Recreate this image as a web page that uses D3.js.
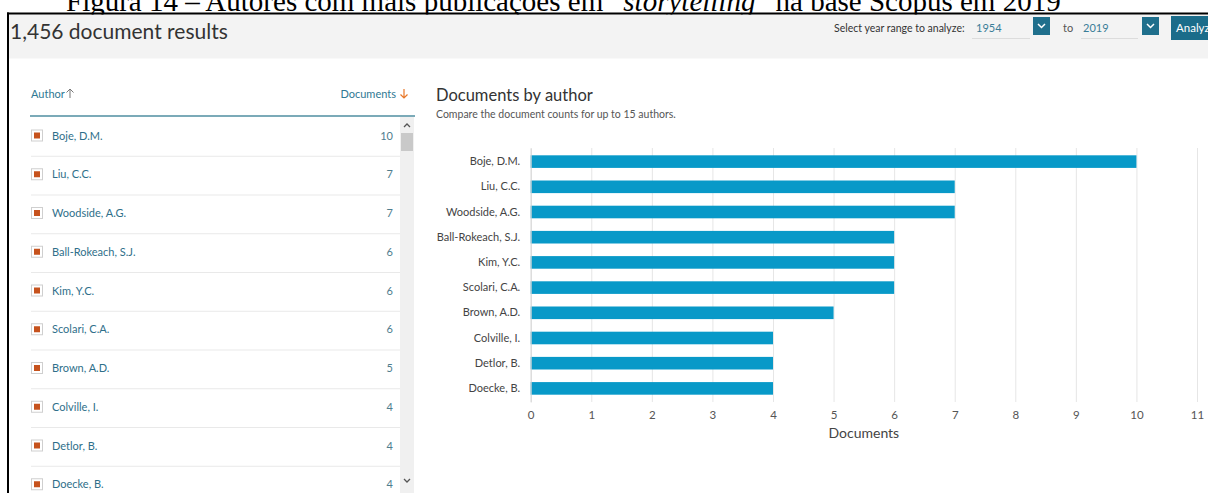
<!DOCTYPE html>
<html><head><meta charset="utf-8">
<script src="https://cdn.jsdelivr.net/npm/d3@7"></script>
<style>
html,body{margin:0;padding:0;background:#fff;overflow:hidden}
svg{display:block;font-family:Lato,"Open Sans",sans-serif}
</style></head><body>
<svg id="c" width="1208" height="493"></svg>
<script>
// ---- data ----
const authors = ["Boje, D.M.", "Liu, C.C.", "Woodside, A.G.", "Ball-Rokeach, S.J.", "Kim, Y.C.",
                 "Scolari, C.A.", "Brown, A.D.", "Colville, I.", "Detlor, B.", "Doecke, B."];
const documents = [10, 7, 7, 6, 6, 6, 5, 4, 4, 4];
const xTicks = [0, 1, 2, 3, 4, 5, 6, 7, 8, 9, 10, 11];
const captionParts = ["Figura 14 – Autores com mais publicações em “", "storytelling", "” na base Scopus em 2019"];
const resultLabel = "1,456 document results";
const yearFrom = "1954";
const yearTo = "2019";
const chartTitle = "Documents by author";
const chartSubtitle = "Compare the document counts for up to 15 authors.";
const xAxisTitle = "Documents";

const data = authors.map((a, i) => ({author: a, docs: documents[i]}));
const svg = d3.select("#c");

// ---- caption (clipped at top, as in the source screenshot) ----
const cap = svg.append("text").attr("x", 66).attr("y", 10.5)
  .style("font-family", "'Liberation Serif','Times New Roman',serif").style("font-size", "29px").attr("fill", "#000");
cap.append("tspan").text(captionParts[0]);
cap.append("tspan").style("font-style", "italic").text(captionParts[1]);
cap.append("tspan").text(captionParts[2]);

// ---- screenshot frame ----
svg.append("rect").attr("x", 9).attr("y", 14.5).attr("width", 1199).attr("height", 44).attr("fill", "#f3f3f3");
svg.append("line").attr("x1", 7).attr("x2", 1208).attr("y1", 13.5).attr("y2", 13.5).attr("stroke", "#000").attr("stroke-width", 2);
svg.append("line").attr("x1", 8).attr("x2", 8).attr("y1", 12.5).attr("y2", 493).attr("stroke", "#000").attr("stroke-width", 2);

// ---- header ----
svg.append("text").attr("x", 10).attr("y", 38.5).attr("fill", "#333").style("font-size", "21px").text(resultLabel);
svg.append("text").attr("x", 834).attr("y", 32).attr("fill", "#333").style("font-size", "10.5px").text("Select year range to analyze:");
svg.append("text").attr("x", 976).attr("y", 32).attr("fill", "#3a7d98").style("font-size", "11px").text(yearFrom);
svg.append("line").attr("x1", 972).attr("x2", 1030).attr("y1", 38.5).attr("y2", 38.5).attr("stroke", "#dcdcdc");
svg.append("text").attr("x", 1063).attr("y", 32).attr("fill", "#555").style("font-size", "11px").text("to");
svg.append("text").attr("x", 1083).attr("y", 32).attr("fill", "#3a7d98").style("font-size", "11px").text(yearTo);
svg.append("line").attr("x1", 1081).attr("x2", 1138).attr("y1", 38.5).attr("y2", 38.5).attr("stroke", "#dcdcdc");
[1033, 1142].forEach(bx => {
  svg.append("rect").attr("x", bx).attr("y", 17).attr("width", 17).attr("height", 18).attr("fill", "#1f6f8c");
  svg.append("polyline").attr("points", `${bx+5},${24} ${bx+8.5},${27.5} ${bx+12},${24}`)
    .attr("fill", "none").attr("stroke", "#fff").attr("stroke-width", 1.5);
});
svg.append("rect").attr("x", 1171).attr("y", 16).attr("width", 60).attr("height", 24).attr("fill", "#1b6c8a");
svg.append("text").attr("x", 1176).attr("y", 32).attr("fill", "#fff").style("font-size", "11.5px").text("Analyze");

// ---- left table ----
const tbl = svg.append("g");
tbl.append("text").attr("x", 31).attr("y", 98).attr("fill", "#2f7893").style("font-size", "11px").text("Author");
tbl.append("path").attr("d", "M70,98 L70,89 M66.5,92.5 L70,89 L73.5,92.5").attr("fill", "none").attr("stroke", "#777").attr("stroke-width", 1);
tbl.append("text").attr("x", 396).attr("y", 98).attr("text-anchor", "end").attr("fill", "#2f7893").style("font-size", "11px").text("Documents");
tbl.append("path").attr("d", "M404,89 L404,98 M400.5,94.5 L404,98 L407.5,94.5").attr("fill", "none").attr("stroke", "#e8782a").attr("stroke-width", 1.2);
tbl.append("line").attr("x1", 30).attr("x2", 415).attr("y1", 116).attr("y2", 116).attr("stroke", "#4f8ea1").attr("stroke-width", 1.5);

const rowY = d3.scaleBand().domain(authors).range([118, 118 + 38.75 * authors.length]);
const rows = tbl.selectAll("g.row").data(data).join("g").attr("class", "row")
  .attr("transform", d => `translate(0,${rowY(d.author)})`);
rows.append("line").attr("x1", 31).attr("x2", 400).attr("y1", rowY.bandwidth() - 0.5).attr("y2", rowY.bandwidth() - 0.5).attr("stroke", "#e9e9e9");
rows.append("rect").attr("x", 31.5).attr("y", 12).attr("width", 11).attr("height", 11).attr("fill", "#fff").attr("stroke", "#cfcfcf");
rows.append("rect").attr("x", 34).attr("y", 14.5).attr("width", 6).attr("height", 6).attr("fill", "#c6521d");
rows.append("text").attr("x", 52).attr("y", 21.5).attr("fill", "#2f6f8a").style("font-size", "11px").text(d => d.author);
rows.append("text").attr("x", 393).attr("y", 21.5).attr("text-anchor", "end").attr("fill", "#4f7d8e").style("font-size", "11px").text(d => d.docs);

// scrollbar
svg.append("rect").attr("x", 400).attr("y", 117).attr("width", 14).attr("height", 376).attr("fill", "#f0f0f0");
svg.append("rect").attr("x", 401).attr("y", 133).attr("width", 12).attr("height", 18).attr("fill", "#c9c9c9");
svg.append("polyline").attr("points", "404,127 407,124 410,127").attr("fill", "none").attr("stroke", "#555").attr("stroke-width", 1.3);
svg.append("polyline").attr("points", "404,479 407,482 410,479").attr("fill", "none").attr("stroke", "#555").attr("stroke-width", 1.3);

// ---- chart ----
svg.append("text").attr("x", 436).attr("y", 100.5).attr("fill", "#333").style("font-size", "16.5px").text(chartTitle);
svg.append("text").attr("x", 436).attr("y", 117.5).attr("fill", "#555").style("font-size", "10.5px").text(chartSubtitle);

const plotTop = 148, plotBottom = 402;
const x = d3.scaleLinear().domain([0, 11]).range([530.7, 1197]);
const y = d3.scaleBand().domain(authors).range([plotTop, plotBottom]).paddingInner(0.5).paddingOuter(0.29);

const xAxis = svg.append("g").attr("transform", `translate(0,${plotBottom})`)
  .call(d3.axisBottom(x).tickValues(xTicks).tickFormat(d3.format("d")).tickSize(-(plotBottom - plotTop)).tickPadding(9));
xAxis.select(".domain").remove();
xAxis.selectAll(".tick line").attr("stroke", "#e6e6e6");
xAxis.selectAll(".tick text").attr("fill", "#555").style("font-size", "11.5px").style("font-family", "Lato,'Open Sans',sans-serif");

svg.append("g").selectAll("rect").data(data).join("rect")
  .attr("x", x(0)).attr("y", d => y(d.author))
  .attr("width", d => x(d.docs) - x(0)).attr("height", y.bandwidth())
  .attr("fill", "#0899c8");

const yAxis = svg.append("g").attr("transform", `translate(${x(0)},0)`)
  .call(d3.axisLeft(y).tickSize(0).tickPadding(10.5));
yAxis.select(".domain").attr("stroke", "#d6d6d6");
yAxis.selectAll(".tick text").attr("fill", "#444").style("font-size", "11px").style("font-family", "Lato,'Open Sans',sans-serif");

svg.append("text").attr("x", (x(0) + x(11)) / 2).attr("y", 438).attr("text-anchor", "middle")
  .attr("fill", "#444").style("font-size", "14px").text(xAxisTitle);
</script>
</body></html>
